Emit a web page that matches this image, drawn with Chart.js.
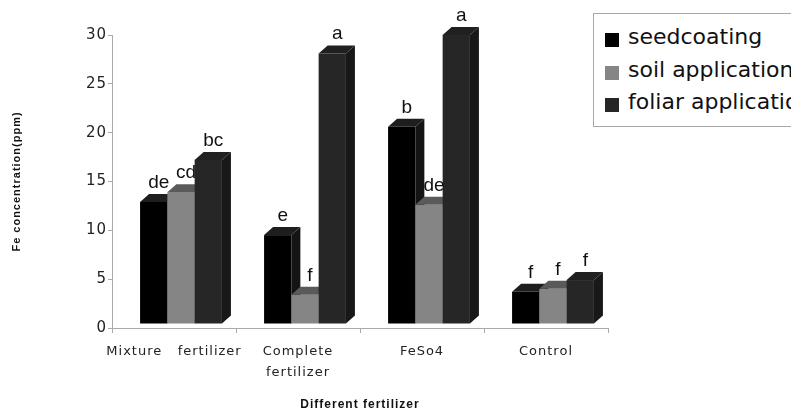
<!DOCTYPE html>
<html>
<head>
<meta charset="utf-8">
<script src="https://cdn.jsdelivr.net/npm/chart.js@4/dist/chart.umd.min.js"></script>
<style>
  html, body { margin:0; padding:0; background:#fff; width:791px; height:412px; overflow:hidden; }
  #wrap { position:relative; width:791px; height:412px; }
  canvas { position:absolute; left:0; top:0; }
  #legend { position:absolute; left:593px; top:13px; width:260px; height:112px; border:1px solid #a8a8a8; background:#fff; font-family:"DejaVu Sans", sans-serif; font-size:22px; color:#111; }
  .item { position:absolute; left:11px; height:26px; white-space:nowrap; }
  .sw { position:absolute; left:0; top:4px; width:14px; height:14px; }
  .lt { position:absolute; left:23px; top:-5px; line-height:26px; }
</style>
</head>
<body>
<div id="wrap">
  <canvas id="c" width="791" height="412"></canvas>
  <div id="legend"></div>
</div>
<script>
// ---- data ----
const categories = [["Mixture   fertilizer"], ["Complete", "fertilizer"], "FeSo4", "Control"];
const seriesNames = ["seedcoating", "soil application", "foliar application"];
const seedcoating = [12.5, 9.1, 20.2, 3.3];
const soilApplication = [13.5, 3.0, 12.2, 3.6];
const foliarApplication = [16.8, 27.7, 29.6, 4.5];
const seedLetters = ["de", "e", "b", "f"];
const soilLetters = ["cd", "f", "de", "f"];
const foliarLetters = ["bc", "a", "a", "f"];
const yTicks = [0, 5, 10, 15, 20, 25, 30];

// ---- styles ----
const frontColors = ["#000000", "#858585", "#262626"];
const sideColors = ["#141414", "#5c5c5c", "#181818"];
const topColors = ["#1e1e1e", "#5a5a5a", "#202020"];
const SHIFT_X = 7, SHIFT_Y = -4, DX = 9, DY = -8;

// legend (HTML, real text)
const leg = document.getElementById('legend');
seriesNames.forEach((n, i) => {
  const it = document.createElement('div');
  it.className = 'item';
  it.style.top = (15 + i * 32.5) + 'px';
  it.innerHTML = '<div class="sw" style="background:' + frontColors[i] + '"></div><div class="lt"></div>';
  it.querySelector('.lt').textContent = n;
  leg.appendChild(it);
});

const letters = [seedLetters, soilLetters, foliarLetters];

const bar3d = {
  id: 'bar3d',
  beforeDraw(chart) { chart.ctx.letterSpacing = '1px'; },
  afterDatasetsDraw(chart) {
    const ctx = chart.ctx;
    ctx.save();
    ctx.translate(SHIFT_X, SHIFT_Y);
    // draw each series in order: front, side, top (geometry from the library's bar elements)
    for (let di = 0; di < 3; di++) {
      const meta = chart.getDatasetMeta(di);
      meta.data.forEach(el => {
        const p = el.getProps(['x', 'y', 'base', 'width'], true);
        const l = p.x - p.width / 2, r = p.x + p.width / 2;
        ctx.fillStyle = frontColors[di];
        ctx.fillRect(l, p.y, r - l, p.base - p.y);
        ctx.fillStyle = sideColors[di];
        ctx.beginPath();
        ctx.moveTo(r, p.y); ctx.lineTo(r + DX, p.y + DY); ctx.lineTo(r + DX, p.base + DY); ctx.lineTo(r, p.base);
        ctx.closePath(); ctx.fill();
        ctx.fillStyle = topColors[di];
        ctx.beginPath();
        ctx.moveTo(l, p.y); ctx.lineTo(l + DX, p.y + DY); ctx.lineTo(r + DX, p.y + DY); ctx.lineTo(r, p.y);
        ctx.closePath(); ctx.fill();
      });
    }
    ctx.restore();
    ctx.save();
    ctx.letterSpacing = '0px';
    ctx.font = '19px "Liberation Sans", Arial, sans-serif';
    ctx.fillStyle = '#111';
    ctx.textAlign = 'center';
    ctx.textBaseline = 'alphabetic';
    for (let di = 0; di < 3; di++) {
      const meta = chart.getDatasetMeta(di);
      meta.data.forEach((el, i) => {
        const p = el.getProps(['x', 'y'], true);
        ctx.fillText(letters[di][i], p.x + SHIFT_X + 5, p.y + SHIFT_Y - 14);
      });
    }
    ctx.restore();
  },
  afterDraw(chart) { chart.ctx.letterSpacing = '0px'; }
};

const dataArrays = [seedcoating, soilApplication, foliarApplication];
new Chart(document.getElementById('c'), {
  type: 'bar',
  data: {
    labels: categories,
    datasets: dataArrays.map((d, i) => ({
      label: seriesNames[i],
      data: d,
      backgroundColor: 'rgba(0,0,0,0)',
      borderWidth: 0,
      clip: false,
      categoryPercentage: 0.66,
      barPercentage: 1.0
    }))
  },
  options: {
    responsive: false,
    animation: false,
    devicePixelRatio: 1,
    layout: { padding: { left: 0, top: 35, right: 183, bottom: 0 } },
    plugins: { legend: { display: false }, tooltip: { enabled: false } },
    scales: {
      x: {
        grid: { drawOnChartArea: false, drawTicks: true, tickLength: 5, color: '#aaa', offset: true },
        border: { color: '#aaa', width: 1 },
        ticks: { color: '#222', font: { family: 'DejaVu Sans', size: 13, lineHeight: 1.6 }, padding: 8, maxRotation: 0, minRotation: 0, autoSkip: false },
        title: { display: true, text: 'Different fertilizer', color: '#111', font: { family: 'Liberation Sans', size: 12, weight: 'bold' }, padding: { top: 0, bottom: 0 } },
        afterFit(s) { s.height = 84; }
      },
      y: {
        min: 0, max: 30,
        afterBuildTicks(s) { s.ticks = yTicks.map(v => ({ value: v })); },
        grid: { drawOnChartArea: false, drawTicks: true, tickLength: 4, color: '#aaa' },
        border: { color: '#aaa', width: 1 },
        ticks: { color: '#222', font: { family: 'DejaVu Sans', size: 15 }, padding: 1 },
        title: { display: true, text: 'Fe concentration(ppm)', color: '#111', font: { family: 'Liberation Sans', size: 11, weight: 'bold' }, padding: { top: 10, bottom: 0 } },
        afterFit(s) { s.width = 112; }
      }
    }
  },
  plugins: [bar3d]
});
</script>
</body>
</html>
